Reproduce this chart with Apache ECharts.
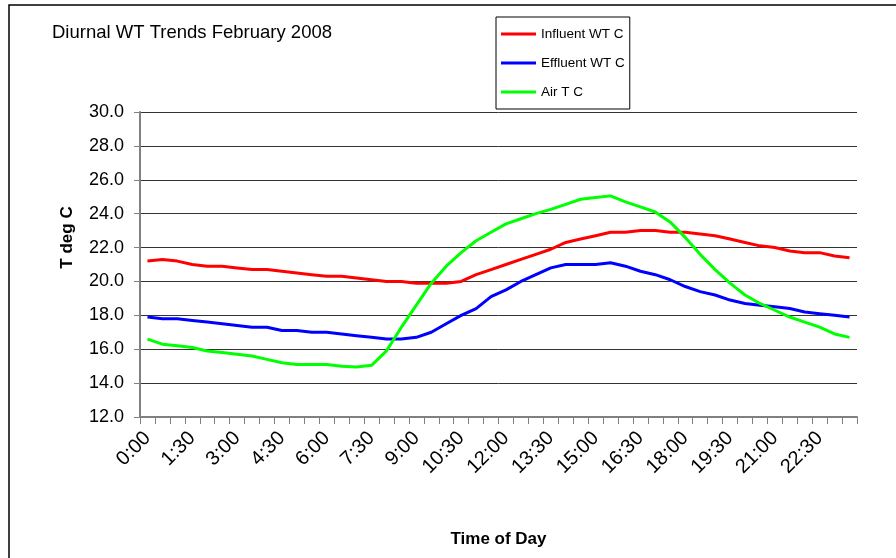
<!DOCTYPE html>
<html>
<head>
<meta charset="utf-8">
<script src="https://cdn.jsdelivr.net/npm/echarts@6/dist/echarts.min.js"></script>
<style>
    html, body { margin: 0; padding: 0; background: #fff; }
    #chart { width: 896px; height: 558px; }
</style>
</head>
<body>
<div id="chart"></div>
<script>
    // half-hour time slots
    const times = [
        '0:00', '0:30', '1:00', '1:30', '2:00', '2:30', '3:00', '3:30',
        '4:00', '4:30', '5:00', '5:30', '6:00', '6:30', '7:00', '7:30',
        '8:00', '8:30', '9:00', '9:30', '10:00', '10:30', '11:00', '11:30',
        '12:00', '12:30', '13:00', '13:30', '14:00', '14:30', '15:00', '15:30',
        '16:00', '16:30', '17:00', '17:30', '18:00', '18:30', '19:00', '19:30',
        '20:00', '20:30', '21:00', '21:30', '22:00', '22:30', '23:00', '23:30'
    ];

    const influentWT = [
        21.2, 21.3, 21.2, 21.0, 20.9, 20.9, 20.8, 20.7, 20.7, 20.6, 20.5, 20.4,
        20.3, 20.3, 20.2, 20.1, 20.0, 20.0, 19.9, 19.9, 19.9, 20.0, 20.4, 20.7,
        21.0, 21.3, 21.6, 21.9, 22.3, 22.5, 22.7, 22.9, 22.9, 23.0, 23.0, 22.9,
        22.9, 22.8, 22.7, 22.5, 22.3, 22.1, 22.0, 21.8, 21.7, 21.7, 21.5, 21.4
    ];

    const effluentWT = [
        17.9, 17.8, 17.8, 17.7, 17.6, 17.5, 17.4, 17.3, 17.3, 17.1, 17.1, 17.0,
        17.0, 16.9, 16.8, 16.7, 16.6, 16.6, 16.7, 17.0, 17.5, 18.0, 18.4, 19.1,
        19.5, 20.0, 20.4, 20.8, 21.0, 21.0, 21.0, 21.1, 20.9, 20.6, 20.4, 20.1,
        19.7, 19.4, 19.2, 18.9, 18.7, 18.6, 18.5, 18.4, 18.2, 18.1, 18.0, 17.9
    ];

    const airT = [
        16.6, 16.3, 16.2, 16.1, 15.9, 15.8, 15.7, 15.6, 15.4, 15.2, 15.1, 15.1,
        15.1, 15.0, 14.95, 15.05, 15.9, 17.3, 18.6, 19.9, 20.9, 21.7, 22.4, 22.9,
        23.4, 23.7, 24.0, 24.25, 24.55, 24.85, 24.95, 25.05, 24.7, 24.4, 24.1, 23.5,
        22.6, 21.6, 20.7, 19.9, 19.2, 18.7, 18.3, 17.9, 17.6, 17.3, 16.9, 16.7
    ];

    const seriesList = [
        { name: 'Influent WT C', data: influentWT, color: '#ff0000' },
        { name: 'Effluent WT C', data: effluentWT, color: '#0000ff' },
        { name: 'Air T C', data: airT, color: '#00ff00' }
    ];

    const font = '"Liberation Sans", Arial, sans-serif';

    const chart = echarts.init(document.getElementById('chart'));
    const option = {
        backgroundColor: '#fff',
        animation: false,
        textStyle: { fontFamily: font },
        title: {
            text: 'Diurnal WT Trends February 2008',
            left: 52,
            top: 23,
            padding: 0,
            textStyle: {
                fontFamily: font,
                fontSize: 18.5,
                fontWeight: 'normal',
                color: '#000'
            }
        },
        legend: {
            orient: 'vertical',
            left: 496,
            top: 17,
            padding: [10, 5, 10, 5],
            itemGap: 15,
            itemWidth: 35,
            itemHeight: 3,
            icon: 'rect',
            borderColor: '#000',
            borderWidth: 1,
            textStyle: {
                fontFamily: font,
                fontSize: 13.5,
                color: '#000'
            }
        },
        grid: {
            left: 140,
            right: 39,
            top: 112,
            bottom: 141
        },
        xAxis: {
            type: 'category',
            data: times,
            boundaryGap: true,
            name: 'Time of Day',
            nameLocation: 'middle',
            nameGap: 114,
            nameTextStyle: {
                fontFamily: font,
                fontSize: 17,
                fontWeight: 'bold',
                color: '#000'
            },
            axisLine: {
                lineStyle: { color: '#808080', width: 2 }
            },
            axisTick: {
                show: true,
                interval: 0,
                length: 7,
                lineStyle: { color: '#808080' }
            },
            axisLabel: {
                interval: 2,
                rotate: 45,
                margin: 18,
                fontFamily: font,
                fontSize: 20,
                color: '#000'
            },
            splitLine: { show: false }
        },
        yAxis: {
            type: 'value',
            min: 12,
            max: 30,
            interval: 2,
            name: 'T deg C',
            nameLocation: 'middle',
            nameGap: 64,
            nameTextStyle: {
                fontFamily: font,
                fontSize: 17,
                fontWeight: 'bold',
                color: '#000',
                padding: [0, 0, 0, 54]
            },
            axisLine: {
                show: true,
                lineStyle: { color: '#808080', width: 2 }
            },
            axisTick: {
                show: true,
                length: 6,
                lineStyle: { color: '#808080' }
            },
            axisLabel: {
                margin: 16,
                fontFamily: font,
                fontSize: 18,
                color: '#000',
                formatter: (v) => v.toFixed(1)
            },
            splitLine: {
                show: true,
                lineStyle: { color: '#333', width: 1 }
            }
        },
        graphic: [{
            type: 'rect',
            shape: { x: 9, y: 5, width: 900, height: 600 },
            style: { fill: 'none', stroke: '#000', lineWidth: 1.5 },
            silent: true
        }],
        series: seriesList.map((item) => {
            return {
                name: item.name,
                type: 'line',
                data: item.data,
                symbol: 'none',
                smooth: false,
                color: item.color,
                lineStyle: { color: item.color, width: 3 }
            };
        })
    };
    chart.setOption(option);
</script>
</body>
</html>
